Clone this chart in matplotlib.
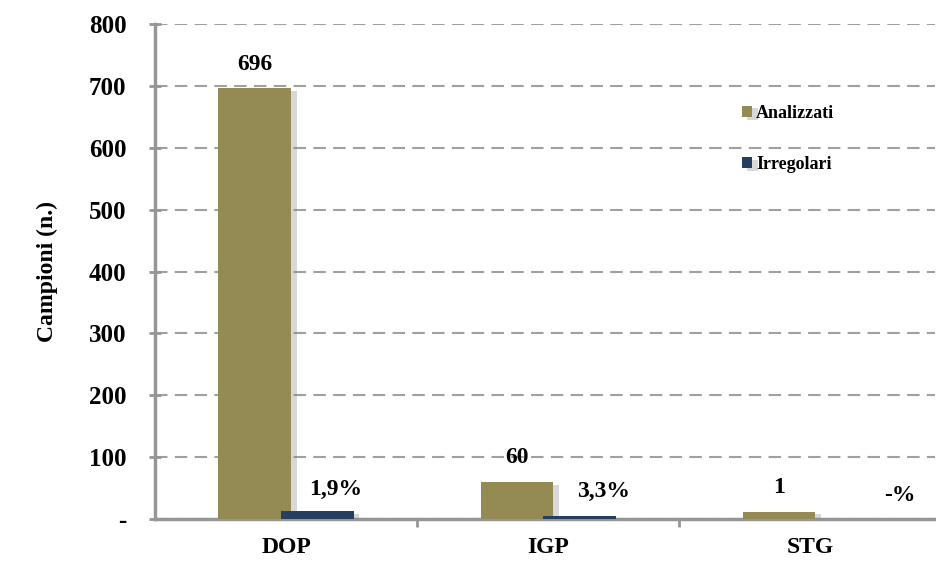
import matplotlib.pyplot as plt
import matplotlib.patheffects as pe
import numpy as np

# dati
categorie = ['DOP', 'IGP', 'STG']
analizzati = [696, 60, 12]
irregolari = [13, 5, 0]
etichette_analizzati = ['696', '60', '1']
etichette_irregolari = ['1,9%', '3,3%', '-%']
y_ticks = [0, 100, 200, 300, 400, 500, 600, 700, 800]
y_tick_labels = ['-', '100', '200', '300', '400', '500', '600', '700', '800']

col_anal = '#948A54'
col_irr = '#243F60'
grigio = '#969696'

plt.rcParams['font.family'] = ['Liberation Serif', 'DejaVu Serif']
plt.rcParams['font.weight'] = 'bold'


def create_chart():
    fig = plt.figure(figsize=(9.37, 5.63), dpi=100)
    ax = fig.add_axes([0.1654, 0.0782, 0.8326, 0.879])

    x = np.arange(len(categorie))
    w = 0.277
    off = 0.12
    shadow = [pe.SimplePatchShadow(offset=(4, -2), shadow_rgbFace='#808080', alpha=0.3), pe.Normal()]

    b1 = ax.bar(x - off, analizzati, w, color=col_anal, label='Analizzati', zorder=3)
    b2 = ax.bar(x + off, irregolari, w, color=col_irr, label='Irregolari', zorder=4)
    for b in list(b1) + list(b2):
        b.set_path_effects(shadow)

    # etichette
    for i in range(len(categorie)):
        ax.text(x[i] - off, analizzati[i] + 22, etichette_analizzati[i], ha='center', va='bottom',
                fontsize=17, fontweight='bold', zorder=5)
    irr_x = [0.19, 0.21, 0.34]
    irr_y = [48, 45, 38]
    for i in range(len(categorie)):
        ax.text(x[i] + irr_x[i], irr_y[i], etichette_irregolari[i], ha='center', va='center',
                fontsize=17, fontweight='bold', zorder=5)

    ax.set_xlim(-0.5, 2.475)
    ax.set_ylim(0, 800)
    ax.set_yticks(y_ticks)
    ax.set_yticklabels(y_tick_labels, fontsize=18, fontweight='bold')
    ax.set_xticks(x)
    ax.set_xticklabels(categorie, fontsize=17, fontweight='bold')
    ax.set_xticks([0.5, 1.5], minor=True)
    ax.tick_params(axis='x', which='major', length=0, pad=13)
    ax.tick_params(axis='x', which='minor', length=6, width=2, color=grigio, direction='out')
    ax.tick_params(axis='y', length=9, width=2, color=grigio, direction='inout', pad=16)

    ax.yaxis.grid(True, linestyle=(0, (6, 3.5)), color='#A0A0A0', linewidth=1.5, zorder=0)
    ax.set_axisbelow(True)

    for s in ['top', 'right']:
        ax.spines[s].set_visible(False)
    for s in ['left', 'bottom']:
        ax.spines[s].set_color(grigio)
        ax.spines[s].set_linewidth(2.5)

    ax.set_ylabel('Campioni (n.)', fontsize=17, fontweight='bold', labelpad=22)

    leg = ax.legend(loc='upper left', bbox_to_anchor=(0.731, 0.87), frameon=False, fontsize=13,
                    handlelength=0.6, handleheight=0.6, handletextpad=0.2, labelspacing=1.9)
    for t in leg.get_texts():
        t.set_fontweight('bold')
    return fig, ax


if __name__ == "__main__":
    fig, ax = create_chart()
    fig.savefig('out.png', dpi=100)
